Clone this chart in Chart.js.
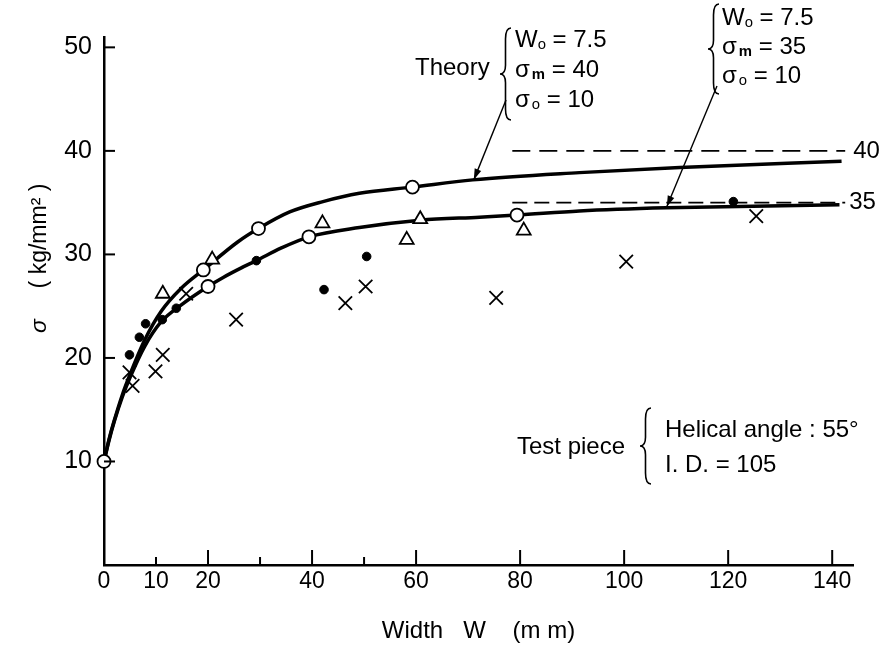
<!DOCTYPE html>
<html>
<head>
<meta charset="utf-8">
<script src="https://cdn.jsdelivr.net/npm/chart.js@4/dist/chart.umd.min.js"></script>
<style>
  html, body { margin: 0; padding: 0; background: #fff; }
  #c { display: block; }
</style>
</head>
<body>
<canvas id="c" width="890" height="648"></canvas>
<script>
// ---------- data ----------
const xTickValues = [0, 10, 20, 40, 60, 80, 100, 120, 140];
const xMajorMarks = [20, 40, 60, 80, 100, 120, 140];
const xMinorMarks = [10, 30, 50];
const yTickValues = [10, 20, 30, 40, 50];

// Theory curve, sigma_m = 40
const theory40W = [0, 1, 2, 3.5, 5, 7.8, 11, 14.8, 19.1, 25.7, 29.7, 35.7, 42.1, 49.1, 59.3, 70.9, 91.4, 110.7, 141.8];
const theory40S = [10, 12.2, 14.0, 16.4, 18.4, 21.7, 24.5, 26.7, 28.5, 31.2, 32.5, 34.1, 35.1, 35.9, 36.5, 37.2, 37.9, 38.4, 39.0];
// Theory curve, sigma_m = 35
const theory35W = [0, 1, 2, 3.5, 5, 7.8, 11, 14.8, 20, 23, 26.4, 29.3, 34, 39.4, 49.1, 60.8, 72.2, 79.4, 91.4, 108.1, 141.4];
const theory35S = [10, 12.1, 13.9, 16.2, 18.1, 21.1, 23.5, 25.1, 26.9, 27.8, 28.7, 29.4, 30.6, 31.7, 32.6, 33.3, 33.6, 33.8, 34.2, 34.5, 34.8];
// asymptotes
const asymptoteW = [78.5, 142.5];
const asymptote40 = [40, 40];
const asymptote35 = [35, 35];

// measured points
const openCircleW = [0, 19.1, 20, 29.7, 39.4, 59.3, 79.4];
const openCircleS = [10, 28.5, 26.9, 32.5, 31.7, 36.5, 33.8];
const filledDotW = [4.9, 6.8, 8.0, 11.2, 13.9, 29.3, 42.3, 50.5, 121];
const filledDotS = [20.3, 22.0, 23.3, 23.7, 24.8, 29.4, 26.6, 29.8, 35.1];
const triangleW = [11.3, 20.8, 42, 58.2, 60.8, 80.7];
const triangleS = [26.2, 29.5, 33.0, 31.4, 33.4, 32.3];
const crossW = [4.9, 5.5, 9.9, 11.3, 15.8, 25.4, 46.4, 50.3, 75.4, 100.4, 125.4];
const crossS = [18.6, 17.3, 18.7, 20.3, 26.2, 23.7, 25.3, 26.9, 25.8, 29.3, 33.7];

// leader arrow targets (data coords on the curves)
const arrow40Target = [71.1, 37.2];
const arrow35Target = [108.2, 34.6];

function pts(xs, ys) { return xs.map((x, i) => ({ x: x, y: ys[i] })); }

const FONT = '"Liberation Sans", Arial, sans-serif';

// ---------- annotation plugin ----------
function drawRich(ctx, x, y, parts, size) {
  let cx = x;
  parts.forEach(p => {
    const s = p.sub ? size * 0.62 : size;
    ctx.font = (p.bold ? 'bold ' : '') + s + 'px ' + FONT;
    ctx.fillText(p.t, cx, p.sub ? y + size * 0.22 : y);
    cx += ctx.measureText(p.t).width + (p.gap || 0);
  });
}
function drawBrace(ctx, x, y1, y2, w) {
  const ym = (y1 + y2) / 2, xm = x + w / 2;
  ctx.beginPath();
  ctx.moveTo(x + w, y1);
  ctx.quadraticCurveTo(xm, y1, xm, y1 + w);
  ctx.lineTo(xm, ym - w * 0.8);
  ctx.quadraticCurveTo(xm, ym, x, ym);
  ctx.quadraticCurveTo(xm, ym, xm, ym + w * 0.8);
  ctx.lineTo(xm, y2 - w);
  ctx.quadraticCurveTo(xm, y2, x + w, y2);
  ctx.stroke();
}
function drawArrow(ctx, x0, y0, x1, y1) {
  ctx.beginPath();
  ctx.moveTo(x0, y0);
  ctx.lineTo(x1, y1);
  ctx.stroke();
  const a = Math.atan2(y1 - y0, x1 - x0), L = 11, W = 3.5;
  ctx.beginPath();
  ctx.moveTo(x1, y1);
  ctx.lineTo(x1 - L * Math.cos(a) + W * Math.sin(a), y1 - L * Math.sin(a) - W * Math.cos(a));
  ctx.lineTo(x1 - L * Math.cos(a) - W * Math.sin(a), y1 - L * Math.sin(a) + W * Math.cos(a));
  ctx.closePath();
  ctx.fill();
}

const annotPlugin = {
  id: 'annot',
  beforeDraw(chart) {
    const ctx = chart.ctx;
    ctx.save();
    ctx.fillStyle = '#fff';
    ctx.fillRect(0, 0, chart.width, chart.height);
    ctx.restore();
  },
  afterDraw(chart) {
    const ctx = chart.ctx;
    const xs = chart.scales.x, ys = chart.scales.y;
    ctx.save();
    ctx.strokeStyle = '#000';
    ctx.fillStyle = '#000';
    // inward tick marks
    ctx.lineWidth = 2;
    const x0 = xs.getPixelForValue(0), y0 = ys.getPixelForValue(0);
    xMajorMarks.forEach(v => {
      const px = xs.getPixelForValue(v);
      ctx.beginPath(); ctx.moveTo(px, y0); ctx.lineTo(px, y0 - 15); ctx.stroke();
    });
    xMinorMarks.forEach(v => {
      const px = xs.getPixelForValue(v);
      ctx.beginPath(); ctx.moveTo(px, y0); ctx.lineTo(px, y0 - 8); ctx.stroke();
    });
    yTickValues.forEach(v => {
      const py = ys.getPixelForValue(v);
      ctx.beginPath(); ctx.moveTo(x0, py); ctx.lineTo(x0 + 11, py); ctx.stroke();
    });

    // y axis title
    ctx.save();
    ctx.translate(40, 246);
    ctx.rotate(-Math.PI / 2);
    ctx.textAlign = 'center';
    ctx.textBaseline = 'middle';
    ctx.font = 'italic 23px ' + FONT;
    ctx.fillText('σ', -80, 0);
    ctx.font = '23px ' + FONT;
    ctx.fillText('( kg/mm² )', 10, 0);
    ctx.restore();

    ctx.textBaseline = 'middle';
    ctx.textAlign = 'left';
    const fs = 24;
    // left theory block
    ctx.font = fs + 'px ' + FONT;
    ctx.fillText('Theory', 415, 68);
    ctx.lineWidth = 1.6;
    drawBrace(ctx, 500, 28, 120, 11);
    drawRich(ctx, 515, 40, [{ t: 'W' }, { t: 'o', sub: true }, { t: ' = 7.5' }], fs);
    drawRich(ctx, 515, 70, [{ t: 'σ', gap: 2 }, { t: 'm', sub: true, bold: true }, { t: ' = 40' }], fs);
    drawRich(ctx, 515, 100, [{ t: 'σ', gap: 2 }, { t: 'o', sub: true }, { t: ' = 10' }], fs);
    // right theory block
    drawBrace(ctx, 708, 4, 94, 11);
    drawRich(ctx, 722, 18, [{ t: 'W' }, { t: 'o', sub: true }, { t: ' = 7.5' }], fs);
    drawRich(ctx, 722, 47, [{ t: 'σ', gap: 2 }, { t: 'm', sub: true, bold: true }, { t: ' = 35' }], fs);
    drawRich(ctx, 722, 76, [{ t: 'σ', gap: 2 }, { t: 'o', sub: true }, { t: ' = 10' }], fs);
    // leaders
    ctx.lineWidth = 1.4;
    drawArrow(ctx, 506, 100, xs.getPixelForValue(arrow40Target[0]), ys.getPixelForValue(arrow40Target[1]));
    drawArrow(ctx, 717, 86, xs.getPixelForValue(arrow35Target[0]), ys.getPixelForValue(arrow35Target[1]));
    // asymptote labels
    ctx.font = fs + 'px ' + FONT;
    ctx.fillText('40', xs.getPixelForValue(asymptoteW[1]) + 8, ys.getPixelForValue(asymptote40[0]));
    ctx.fillText('35', xs.getPixelForValue(asymptoteW[1]) + 4, ys.getPixelForValue(asymptote35[0]));
    // test piece block
    ctx.fillText('Test piece', 517, 447);
    ctx.lineWidth = 1.6;
    drawBrace(ctx, 640, 408, 484, 11);
    ctx.fillText('Helical angle : 55°', 665, 430);
    ctx.fillText('I. D. = 105', 665, 465);
    ctx.restore();
  }
};

// ---------- chart ----------
const chart = new Chart(document.getElementById('c'), {
  type: 'scatter',
  data: {
    datasets: [
      { label: 'Open circles', data: pts(openCircleW, openCircleS), pointStyle: 'circle', pointRadius: 6.5,
        backgroundColor: '#fff', borderColor: '#000', borderWidth: 1.8, showLine: false, clip: false, order: 1 },
      { label: 'Filled dots', data: pts(filledDotW, filledDotS), pointStyle: 'circle', pointRadius: 4.3,
        backgroundColor: '#000', borderColor: '#000', borderWidth: 1, showLine: false, clip: false, order: 1 },
      { label: 'Triangles', data: pts(triangleW, triangleS), pointStyle: 'triangle', pointRadius: 8,
        backgroundColor: '#fff', borderColor: '#000', borderWidth: 1.8, showLine: false, clip: false, order: 1 },
      { label: 'Crosses', data: pts(crossW, crossS), pointStyle: 'crossRot', pointRadius: 9.5,
        backgroundColor: '#000', borderColor: '#000', borderWidth: 1.8, showLine: false, clip: false, order: 1 },
      { label: 'Theory σm=40', data: pts(theory40W, theory40S), showLine: true, pointRadius: 0,
        borderColor: '#000', borderWidth: 3.5, cubicInterpolationMode: 'monotone', fill: false, clip: false, order: 2 },
      { label: 'Theory σm=35', data: pts(theory35W, theory35S), showLine: true, pointRadius: 0,
        borderColor: '#000', borderWidth: 3.5, cubicInterpolationMode: 'monotone', fill: false, clip: false, order: 2 },
      { label: 'Asymptote 40', data: pts(asymptoteW, asymptote40), showLine: true, pointRadius: 0,
        borderColor: '#000', borderWidth: 1.6, borderDash: [18, 9], fill: false, clip: false, order: 3 },
      { label: 'Asymptote 35', data: pts(asymptoteW, asymptote35), showLine: true, pointRadius: 0,
        borderColor: '#000', borderWidth: 1.6, borderDash: [15, 7], fill: false, clip: false, order: 3 }
    ]
  },
  options: {
    responsive: false,
    devicePixelRatio: 1,
    animation: false,
    events: [],
    layout: { padding: { top: 37, right: 37, left: 0, bottom: 0 } },
    plugins: { legend: { display: false }, tooltip: { enabled: false } },
    scales: {
      x: {
        type: 'linear', min: 0, max: 144,
        afterFit: s => { s.height = 83; },
        afterBuildTicks: s => { s.ticks = xTickValues.map(v => ({ value: v })); },
        grid: { display: false, drawTicks: false },
        border: { display: true, color: '#000', width: 2.5 },
        ticks: { color: '#000', font: { family: FONT, size: 23 }, padding: 3, maxRotation: 0, autoSkip: false },
        title: { display: true, text: 'Width   W    (m m)', color: '#000',
                 font: { family: FONT, size: 24 }, padding: { top: 0, bottom: 2 } }
      },
      y: {
        type: 'linear', min: 0, max: 51,
        afterFit: s => { s.width = 104; },
        afterBuildTicks: s => { s.ticks = yTickValues.map(v => ({ value: v })); },
        grid: { display: false, drawTicks: false },
        border: { display: true, color: '#000', width: 2.5 },
        ticks: { color: '#000', font: { family: FONT, size: 25 }, padding: 12 },
        title: { display: false }
      }
    }
  },
  plugins: [annotPlugin]
});
</script>
</body>
</html>
